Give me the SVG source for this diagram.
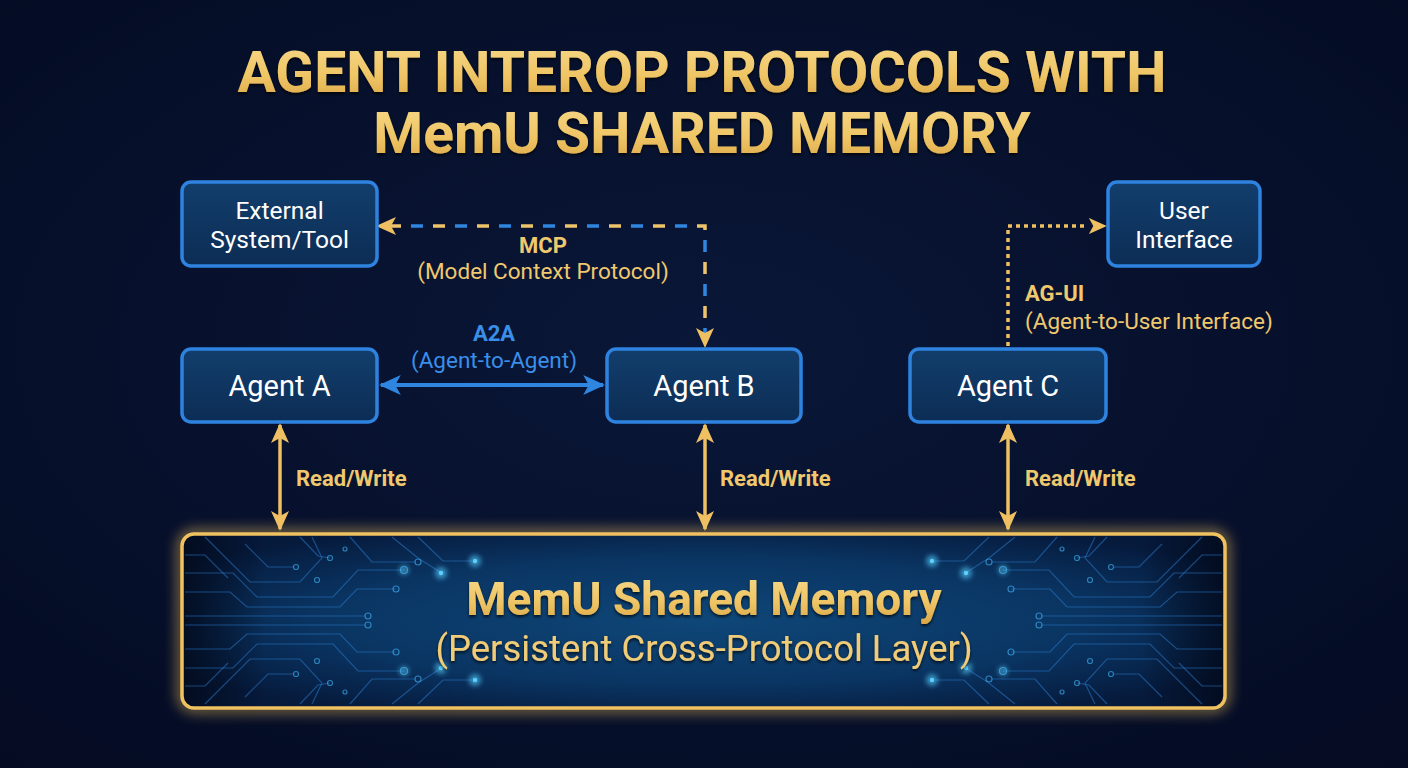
<svg xmlns="http://www.w3.org/2000/svg" width="1408" height="768" viewBox="0 0 1408 768">
<defs>
<radialGradient id="bg" cx="50%" cy="45%" r="75%">
<stop offset="0" stop-color="#0a1738"/>
<stop offset="1" stop-color="#040b22"/>
</radialGradient>
<linearGradient id="gold" x1="0" y1="0" x2="0" y2="1">
<stop offset="0" stop-color="#f7d98a"/>
<stop offset="0.55" stop-color="#efc565"/>
<stop offset="1" stop-color="#d9a444"/>
</linearGradient>
<linearGradient id="nodeFill" x1="0" y1="0" x2="0" y2="1">
<stop offset="0" stop-color="#123e6c"/>
<stop offset="1" stop-color="#0c2d55"/>
</linearGradient>
<radialGradient id="memFill" cx="50%" cy="50%" r="60%">
<stop offset="0" stop-color="#0e4778"/>
<stop offset="0.6" stop-color="#0a3563"/>
<stop offset="1" stop-color="#061a3c"/>
</radialGradient>
<linearGradient id="memEdge" x1="0" y1="0" x2="1" y2="0">
<stop offset="0" stop-color="#020818" stop-opacity="0.8"/>
<stop offset="0.08" stop-color="#020818" stop-opacity="0"/>
<stop offset="0.92" stop-color="#020818" stop-opacity="0"/>
<stop offset="1" stop-color="#020818" stop-opacity="0.8"/>
</linearGradient>
<filter id="glow" x="-10%" y="-30%" width="120%" height="160%">
<feGaussianBlur stdDeviation="7"/>
</filter>
<filter id="dotglow" x="-200%" y="-200%" width="500%" height="500%">
<feGaussianBlur stdDeviation="2.5"/>
</filter>
<filter id="tshadow" x="-5%" y="-20%" width="110%" height="140%">
<feDropShadow dx="0" dy="2" stdDeviation="1.5" flood-color="#000" flood-opacity="0.7"/>
</filter>
<marker id="goldHead" viewBox="0 0 20 20" refX="18" refY="10" markerWidth="20" markerHeight="20" markerUnits="userSpaceOnUse" orient="auto-start-reverse">
<path d="M0,1 L20,10 L0,19 L5,10 Z" fill="#eec062"/>
</marker>
<marker id="goldHeadS" viewBox="0 0 20 20" refX="18" refY="10" markerWidth="18" markerHeight="18" markerUnits="userSpaceOnUse" orient="auto-start-reverse">
<path d="M0,1 L20,10 L0,19 L5,10 Z" fill="#eec062"/>
</marker>
<marker id="blueHead" viewBox="0 0 20 20" refX="18" refY="10" markerWidth="22" markerHeight="22" markerUnits="userSpaceOnUse" orient="auto-start-reverse">
<path d="M0,1 L20,10 L0,19 L5,10 Z" fill="#2f86e0"/>
</marker>
<style>
.node rect{fill:url(#nodeFill);stroke:#2e82e0;stroke-width:3.5}
.ntext{font-family:Roboto,"Liberation Sans",sans-serif;fill:#ffffff;text-anchor:middle}
.lbl{font-family:Roboto,"Liberation Sans",sans-serif;font-weight:700;font-size:22px;fill:#f0c86e}
.sub{font-family:Roboto,"Liberation Sans",sans-serif;font-size:22.5px;fill:#f0c86e}
.blbl{font-family:Roboto,"Liberation Sans",sans-serif;font-weight:700;font-size:22px;fill:#3a8fe8}
.bsub{font-family:Roboto,"Liberation Sans",sans-serif;font-size:22.5px;fill:#3a8fe8}
.rw{stroke:#eec062;stroke-width:3.5;fill:none}
.trace{stroke:#2a79c8;stroke-width:1.2;fill:none;opacity:0.55}
.tdot{fill:none;stroke:#3aa6e6;stroke-width:1.2;opacity:0.7}
.bright{fill:#59d0ff}
</style>
</defs>

<rect width="1408" height="768" fill="url(#bg)"/>

<g id="title" filter="url(#tshadow)" font-family="Roboto,'Liberation Sans',sans-serif" font-weight="700" font-size="57" fill="url(#gold)" text-anchor="middle">
<text x="702" y="92">AGENT INTEROP PROTOCOLS WITH</text>
<text x="702" y="153">MemU SHARED MEMORY</text>
</g>

<g id="memory">
<rect x="182" y="534" width="1043" height="174" rx="12" fill="none" stroke="#f3c35c" stroke-width="6" filter="url(#glow)" opacity="0.9"/>
<rect x="182" y="534" width="1043" height="174" rx="12" fill="url(#memFill)"/>
<rect x="182" y="534" width="1043" height="174" rx="12" fill="url(#memEdge)"/>
<g id="circuits">
<g id="q1">
<path class="trace" d="M185,573 L233,573 L257,597 L333,597 L358,570 L404,570"/>
<path class="trace" d="M185,592 L230,592 L247,607 L340,607 L357,589 L396,589"/>
<path class="trace" d="M185,616 L365,616"/>
<path class="trace" d="M350,537 L372,562 L415,562"/>
<path class="trace" d="M392,537 L418,558 L440,572"/>
<path class="trace" d="M418,537 L443,561 L472,561"/>
<path class="trace" d="M205,537 L250,582 L300,582 L322,558 L312,537"/>
<path class="trace" d="M245,544 L268,567 L293,567"/>
<path class="trace" d="M185,555 L205,555 L228,578"/>
<path class="trace" d="M300,537 L318,556 L330,558"/>
<circle class="tdot" cx="404" cy="570" r="3.5"/>
<circle class="tdot" cx="396" cy="589" r="3"/>
<circle class="tdot" cx="368" cy="616" r="3"/>
<circle class="tdot" cx="418" cy="562" r="3"/>
<circle class="tdot" cx="296" cy="567" r="2.5"/>
<circle class="tdot" cx="317" cy="580" r="2.5"/>
<circle class="tdot" cx="330" cy="558" r="2.5"/>
<circle class="tdot" cx="345" cy="549" r="2"/>
<circle class="bright" cx="441" cy="573" r="6" filter="url(#dotglow)" opacity="0.6"/>
<circle class="bright" cx="441" cy="573" r="2.2"/>
<circle class="bright" cx="475" cy="561" r="6" filter="url(#dotglow)" opacity="0.6"/>
<circle class="bright" cx="475" cy="561" r="2.2"/>
<circle class="bright" cx="404" cy="570" r="5" filter="url(#dotglow)" opacity="0.5"/>
</g>
<use href="#q1" transform="translate(0,1241) scale(1,-1)"/>
<use href="#q1" transform="translate(1407,0) scale(-1,1)"/>
<use href="#q1" transform="translate(1407,1241) scale(-1,-1)"/>
</g>
<rect x="182" y="534" width="1043" height="174" rx="12" fill="none" stroke="#f0c160" stroke-width="3.5"/>
<text x="704" y="615" font-family="Roboto,'Liberation Sans',sans-serif" font-weight="700" font-size="46" fill="url(#gold)" text-anchor="middle" filter="url(#tshadow)">MemU Shared Memory</text>
<text x="704" y="661" font-family="Roboto,'Liberation Sans',sans-serif" font-size="36.5" fill="#f0cb78" text-anchor="middle" filter="url(#tshadow)">(Persistent Cross-Protocol Layer)</text>
</g>

<g id="connectors">
<!-- MCP -->
<path d="M705,346 L705,226 L380,226" fill="none" stroke="#2f86e0" stroke-width="3.5" stroke-dasharray="12 32" stroke-dashoffset="-6"/>
<path d="M705,346 L705,226 L380,226" fill="none" stroke="#eec36a" stroke-width="3.5" stroke-dasharray="12 32" stroke-dashoffset="-28"/>
<path d="M705,330 L705,346" fill="none" stroke="none" marker-end="url(#goldHead)"/>
<path d="M396,226 L378,226" fill="none" stroke="none" marker-end="url(#goldHead)"/>
<text class="lbl" x="543" y="253" text-anchor="middle">MCP</text>
<text class="sub" x="543" y="279" text-anchor="middle">(Model Context Protocol)</text>
<!-- A2A -->
<path d="M381,385 L603,385" fill="none" stroke="#2f86e0" stroke-width="4" marker-start="url(#blueHead)" marker-end="url(#blueHead)"/>
<text class="blbl" x="494" y="341" text-anchor="middle">A2A</text>
<text class="bsub" x="494" y="368" text-anchor="middle">(Agent-to-Agent)</text>
<!-- AG-UI -->
<path d="M1008,346 L1008,226 L1088,226" fill="none" stroke="#eec062" stroke-width="3.5" stroke-dasharray="4 4"/>
<path d="M1088,226 L1105,226" fill="none" stroke="none" marker-end="url(#goldHeadS)"/>
<text class="lbl" x="1025" y="301">AG-UI</text>
<text class="sub" x="1025" y="329">(Agent-to-User Interface)</text>
<!-- Read/Write -->
<path class="rw" d="M280,425 L280,529" marker-start="url(#goldHead)" marker-end="url(#goldHead)"/>
<path class="rw" d="M705,425 L705,529" marker-start="url(#goldHead)" marker-end="url(#goldHead)"/>
<path class="rw" d="M1008,425 L1008,529" marker-start="url(#goldHead)" marker-end="url(#goldHead)"/>
<text class="lbl" x="296" y="486">Read/Write</text>
<text class="lbl" x="720" y="486">Read/Write</text>
<text class="lbl" x="1025" y="486">Read/Write</text>
</g>

<g id="external" class="node">
<rect x="182" y="182" width="195" height="84" rx="9"/>
<text class="ntext" x="279.5" y="219" font-size="24.5">External</text>
<text class="ntext" x="279.5" y="248" font-size="24.5">System/Tool</text>
</g>
<g id="userinterface" class="node">
<rect x="1108" y="182" width="152" height="84" rx="9"/>
<text class="ntext" x="1184" y="219" font-size="24.5">User</text>
<text class="ntext" x="1184" y="248" font-size="24.5">Interface</text>
</g>
<g id="agentA" class="node">
<rect x="182" y="349" width="195" height="73" rx="9"/>
<text class="ntext" x="279.5" y="396" font-size="29">Agent A</text>
</g>
<g id="agentB" class="node">
<rect x="607" y="349" width="194" height="73" rx="9"/>
<text class="ntext" x="704" y="396" font-size="29">Agent B</text>
</g>
<g id="agentC" class="node">
<rect x="910" y="349" width="196" height="73" rx="9"/>
<text class="ntext" x="1008" y="396" font-size="29">Agent C</text>
</g>
</svg>
